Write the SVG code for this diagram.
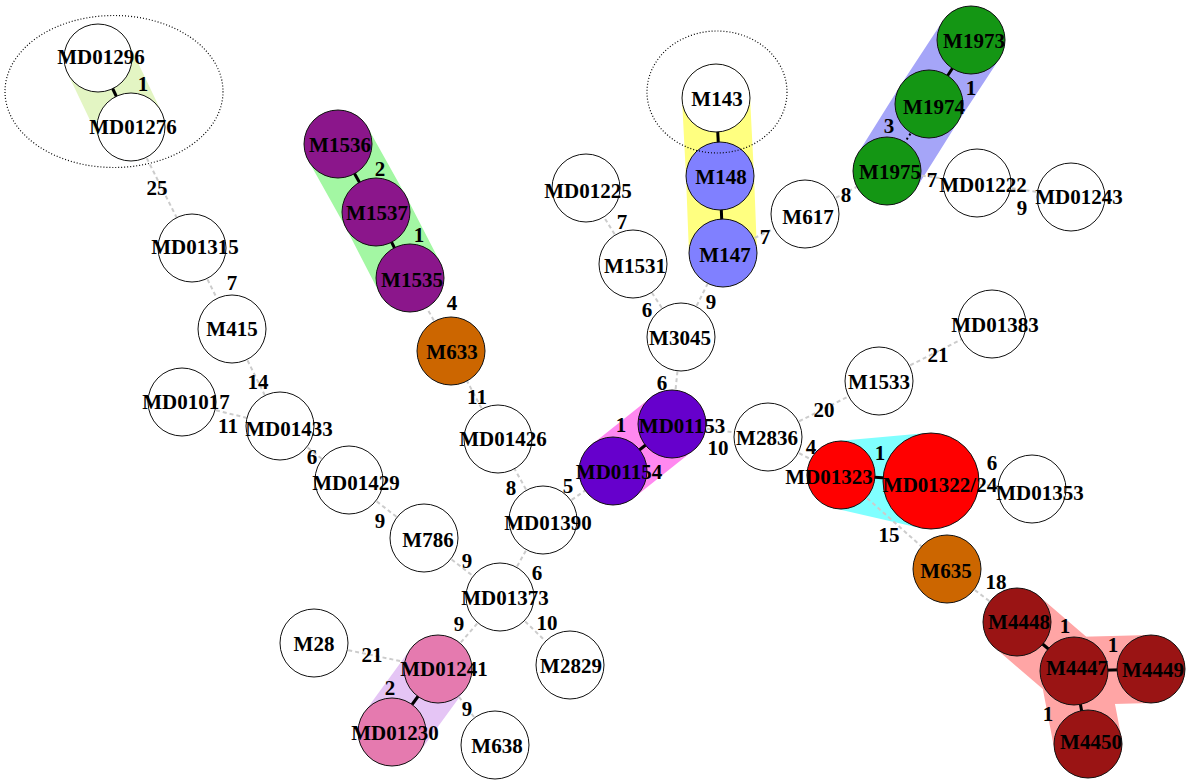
<svg xmlns="http://www.w3.org/2000/svg" width="1188" height="781" viewBox="0 0 1188 781">
<style>
.h{fill:none;stroke-linecap:round;stroke-width:68}
.e{stroke:#cccccc;stroke-width:2;stroke-dasharray:4,3;fill:none}
.s{stroke:#000;stroke-width:3;fill:none}
.d{stroke:#000;stroke-width:2;stroke-dasharray:2,3;fill:none}
.n{stroke:#111;stroke-width:1}
.t{font-family:"Liberation Serif","Times New Roman",serif;font-weight:bold;font-size:21px;fill:#000;text-anchor:middle}
.el{fill:none;stroke:#000;stroke-width:1.2;stroke-dasharray:1,2}
</style>
<rect width="1188" height="781" fill="#fff"/>
<g id="hulls">
<line class="h" stroke="#e3f5c3" x1="98" y1="58" x2="131" y2="127"/>
<path class="h" stroke="#a3f7a3" d="M338,144 L376,212 L410,278" stroke-linejoin="round"/>
<path class="h" stroke="#ffff80" d="M716,98 L720,176 L723,253" stroke-linejoin="round"/>
<path class="h" stroke="#a5a5f8" d="M971,40 L929,104 L887,171" stroke-linejoin="round"/>
<line class="h" stroke="#ff88f0" x1="613" y1="471" x2="672" y2="424"/>
<line class="h" stroke="#e5c5f5" x1="438" y1="669" x2="392" y2="732"/>
<path class="h" stroke="#ffa5a5" d="M1017,622 L1074,671 L1151,669 M1074,671 L1088,744" stroke-linejoin="round"/>
<polygon fill="#80ffff" points="838,441 927,433 920,528 833,508"/>
</g>
<g id="connectors">
<line class="e" x1="131" y1="127" x2="192" y2="248"/>
<line class="e" x1="192" y1="248" x2="232" y2="329"/>
<line class="e" x1="232" y1="329" x2="280" y2="426"/>
<line class="e" x1="182" y1="402" x2="280" y2="426"/>
<line class="e" x1="280" y1="426" x2="349" y2="480"/>
<line class="e" x1="349" y1="480" x2="424" y2="538"/>
<line class="e" x1="424" y1="538" x2="500" y2="597"/>
<line class="e" x1="500" y1="597" x2="543" y2="520"/>
<line class="e" x1="500" y1="597" x2="438" y2="669"/>
<line class="e" x1="500" y1="597" x2="570" y2="665"/>
<line class="e" x1="314" y1="643" x2="438" y2="669"/>
<line class="e" x1="438" y1="669" x2="495" y2="745"/>
<line class="e" x1="543" y1="520" x2="498" y2="439"/>
<line class="e" x1="498" y1="439" x2="451" y2="351"/>
<line class="e" x1="451" y1="351" x2="410" y2="278"/>
<line class="e" x1="543" y1="520" x2="613" y2="471"/>
<line class="e" x1="672" y1="424" x2="681" y2="337"/>
<line class="e" x1="672" y1="424" x2="768" y2="437"/>
<line class="e" x1="681" y1="337" x2="633" y2="264"/>
<line class="e" x1="633" y1="264" x2="586" y2="188"/>
<line class="e" x1="681" y1="337" x2="723" y2="253"/>
<line class="e" x1="723" y1="253" x2="805" y2="214"/>
<line class="e" x1="805" y1="214" x2="887" y2="171"/>
<line class="e" x1="887" y1="171" x2="977" y2="183"/>
<line class="e" x1="977" y1="183" x2="1071" y2="197"/>
<line class="e" x1="768" y1="437" x2="879" y2="381"/>
<line class="e" x1="879" y1="381" x2="992" y2="324"/>
<line class="e" x1="768" y1="437" x2="841" y2="475"/>
<line class="e" x1="931" y1="481" x2="1032" y2="489"/>
<line class="e" x1="841" y1="475" x2="947" y2="569"/>
<line class="e" x1="947" y1="569" x2="1017" y2="622"/>
<line class="s" x1="98" y1="58" x2="131" y2="127"/>
<line class="s" x1="338" y1="144" x2="376" y2="212"/>
<line class="s" x1="376" y1="212" x2="410" y2="278"/>
<line class="s" x1="438" y1="669" x2="392" y2="732"/>
<line class="s" x1="613" y1="471" x2="672" y2="424"/>
<line class="s" x1="716" y1="98" x2="720" y2="176"/>
<line class="s" x1="720" y1="176" x2="723" y2="253"/>
<line class="s" x1="971" y1="40" x2="929" y2="104"/>
<line class="d" x1="929" y1="104" x2="887" y2="171"/>
<line class="s" x1="841" y1="475" x2="931" y2="481"/>
<line class="s" x1="1017" y1="622" x2="1074" y2="671"/>
<line class="s" x1="1074" y1="671" x2="1151" y2="669"/>
<line class="s" x1="1074" y1="671" x2="1088" y2="744"/>
</g>
<g id="n-MD01296"><circle class="n" cx="98" cy="58" r="34" fill="#fff"/><text class="t" x="101" y="64">MD01296</text></g>
<g id="n-MD01276"><circle class="n" cx="131" cy="127" r="34" fill="#fff"/><text class="t" x="133" y="134">MD01276</text></g>
<g id="n-MD01315"><circle class="n" cx="192" cy="248" r="34" fill="#fff"/><text class="t" x="195" y="254">MD01315</text></g>
<g id="n-M415"><circle class="n" cx="232" cy="329" r="34" fill="#fff"/><text class="t" x="232" y="336">M415</text></g>
<g id="n-MD01017"><circle class="n" cx="182" cy="402" r="34" fill="#fff"/><text class="t" x="186" y="409">MD01017</text></g>
<g id="n-MD01433"><circle class="n" cx="280" cy="426" r="34" fill="#fff"/><text class="t" x="289" y="436">MD01433</text></g>
<g id="n-MD01429"><circle class="n" cx="349" cy="480" r="34" fill="#fff"/><text class="t" x="356" y="490">MD01429</text></g>
<g id="n-M786"><circle class="n" cx="424" cy="538" r="34" fill="#fff"/><text class="t" x="428" y="547">M786</text></g>
<g id="n-MD01373"><circle class="n" cx="500" cy="597" r="34" fill="#fff"/><text class="t" x="505" y="605">MD01373</text></g>
<g id="n-M28"><circle class="n" cx="314" cy="643" r="34" fill="#fff"/><text class="t" x="314" y="651">M28</text></g>
<g id="n-MD01241"><circle class="n" cx="438" cy="669" r="34" fill="#e57aaf"/><text class="t" x="444" y="676">MD01241</text></g>
<g id="n-MD01230"><circle class="n" cx="392" cy="732" r="34" fill="#e57aaf"/><text class="t" x="395" y="740">MD01230</text></g>
<g id="n-M2829"><circle class="n" cx="570" cy="665" r="34" fill="#fff"/><text class="t" x="571" y="673">M2829</text></g>
<g id="n-M638"><circle class="n" cx="495" cy="745" r="34" fill="#fff"/><text class="t" x="497" y="753">M638</text></g>
<g id="n-M1536"><circle class="n" cx="338" cy="144" r="34" fill="#8b168b"/><text class="t" x="340" y="152">M1536</text></g>
<g id="n-M1537"><circle class="n" cx="376" cy="212" r="34" fill="#8b168b"/><text class="t" x="377" y="220">M1537</text></g>
<g id="n-M1535"><circle class="n" cx="410" cy="278" r="34" fill="#8b168b"/><text class="t" x="412" y="287">M1535</text></g>
<g id="n-M633"><circle class="n" cx="451" cy="351" r="34" fill="#cc6600"/><text class="t" x="452" y="359">M633</text></g>
<g id="n-MD01426"><circle class="n" cx="498" cy="439" r="34" fill="#fff"/><text class="t" x="503" y="446">MD01426</text></g>
<g id="n-MD01390"><circle class="n" cx="543" cy="520" r="34" fill="#fff"/><text class="t" x="548" y="530">MD01390</text></g>
<g id="n-MD01154"><circle class="n" cx="613" cy="471" r="34" fill="#6600cc"/><text class="t" x="619" y="479">MD01154</text></g>
<g id="n-MD01153"><circle class="n" cx="672" cy="424" r="34" fill="#6600cc"/><text class="t" x="682" y="433">MD01153</text></g>
<g id="n-M143"><circle class="n" cx="716" cy="98" r="34" fill="#fff"/><text class="t" x="717" y="106">M143</text></g>
<g id="n-M148"><circle class="n" cx="720" cy="176" r="34" fill="#8080ff"/><text class="t" x="721" y="184">M148</text></g>
<g id="n-M147"><circle class="n" cx="723" cy="253" r="34" fill="#8080ff"/><text class="t" x="725" y="262">M147</text></g>
<g id="n-MD01225"><circle class="n" cx="586" cy="188" r="34" fill="#fff"/><text class="t" x="588" y="198">MD01225</text></g>
<g id="n-M1531"><circle class="n" cx="633" cy="264" r="34" fill="#fff"/><text class="t" x="635" y="273">M1531</text></g>
<g id="n-M3045"><circle class="n" cx="681" cy="337" r="34" fill="#fff"/><text class="t" x="680" y="345">M3045</text></g>
<g id="n-M617"><circle class="n" cx="805" cy="214" r="34" fill="#fff"/><text class="t" x="808" y="224">M617</text></g>
<g id="n-M1973"><circle class="n" cx="971" cy="40" r="34" fill="#149614"/><text class="t" x="974" y="48">M1973</text></g>
<g id="n-M1974"><circle class="n" cx="929" cy="104" r="34" fill="#149614"/><text class="t" x="934" y="114">M1974</text></g>
<g id="n-M1975"><circle class="n" cx="887" cy="171" r="34" fill="#149614"/><text class="t" x="890" y="179">M1975</text></g>
<g id="n-MD01222"><circle class="n" cx="977" cy="183" r="34" fill="#fff"/><text class="t" x="983" y="192">MD01222</text></g>
<g id="n-MD01243"><circle class="n" cx="1071" cy="197" r="34" fill="#fff"/><text class="t" x="1079" y="204">MD01243</text></g>
<g id="n-MD01383"><circle class="n" cx="992" cy="324" r="34" fill="#fff"/><text class="t" x="995" y="332">MD01383</text></g>
<g id="n-M1533"><circle class="n" cx="879" cy="381" r="34" fill="#fff"/><text class="t" x="879" y="389">M1533</text></g>
<g id="n-M2836"><circle class="n" cx="768" cy="437" r="34" fill="#fff"/><text class="t" x="767" y="445">M2836</text></g>
<g id="n-MD01323"><circle class="n" cx="841" cy="475" r="34" fill="#ff0000"/><text class="t" x="829" y="484">MD01323</text></g>
<g id="n-MD01322-24"><circle class="n" cx="931" cy="481" r="48" fill="#ff0000"/><text class="t" x="940" y="492">MD01322/24</text></g>
<g id="n-MD01353"><circle class="n" cx="1032" cy="489" r="34" fill="#fff"/><text class="t" x="1040" y="500">MD01353</text></g>
<g id="n-M635"><circle class="n" cx="947" cy="569" r="34" fill="#cc6600"/><text class="t" x="946" y="578">M635</text></g>
<g id="n-M4448"><circle class="n" cx="1017" cy="622" r="34" fill="#9a1414"/><text class="t" x="1019" y="629">M4448</text></g>
<g id="n-M4447"><circle class="n" cx="1074" cy="671" r="34" fill="#9a1414"/><text class="t" x="1077" y="675">M4447</text></g>
<g id="n-M4449"><circle class="n" cx="1151" cy="669" r="34" fill="#9a1414"/><text class="t" x="1153" y="677">M4449</text></g>
<g id="n-M4450"><circle class="n" cx="1088" cy="744" r="34" fill="#9a1414"/><text class="t" x="1091" y="749">M4450</text></g>
<g id="groups">
<ellipse class="el" cx="114" cy="91.5" rx="109" ry="76"/>
<ellipse class="el" cx="717" cy="92" rx="70" ry="61"/>
</g>
<g id="edge-labels" class="t">
<text x="143" y="91">1</text>
<text x="157" y="195">25</text>
<text x="232" y="290">7</text>
<text x="258" y="389">14</text>
<text x="228" y="433">11</text>
<text x="312" y="464">6</text>
<text x="380" y="528">9</text>
<text x="467" y="568">9</text>
<text x="537" y="580">6</text>
<text x="459" y="631">9</text>
<text x="547" y="630">10</text>
<text x="372" y="662">21</text>
<text x="390" y="695">2</text>
<text x="467" y="716">9</text>
<text x="380" y="176">2</text>
<text x="419" y="242">1</text>
<text x="452" y="310">4</text>
<text x="477" y="404">11</text>
<text x="511" y="495">8</text>
<text x="568" y="493">5</text>
<text x="621" y="432">1</text>
<text x="662" y="390">6</text>
<text x="718" y="455">10</text>
<text x="622" y="229">7</text>
<text x="647" y="317">6</text>
<text x="711" y="309">9</text>
<text x="765" y="244">7</text>
<text x="846" y="202">8</text>
<text x="889" y="133">3</text>
<text x="971" y="95">1</text>
<text x="932" y="187">7</text>
<text x="1022" y="215">9</text>
<text x="938" y="362">21</text>
<text x="824" y="417">20</text>
<text x="811" y="454">4</text>
<text x="880" y="460">1</text>
<text x="992" y="470">6</text>
<text x="889" y="542">15</text>
<text x="996" y="589">18</text>
<text x="1065" y="633">1</text>
<text x="1113" y="652">1</text>
<text x="1048" y="721">1</text>
</g>
</svg>
